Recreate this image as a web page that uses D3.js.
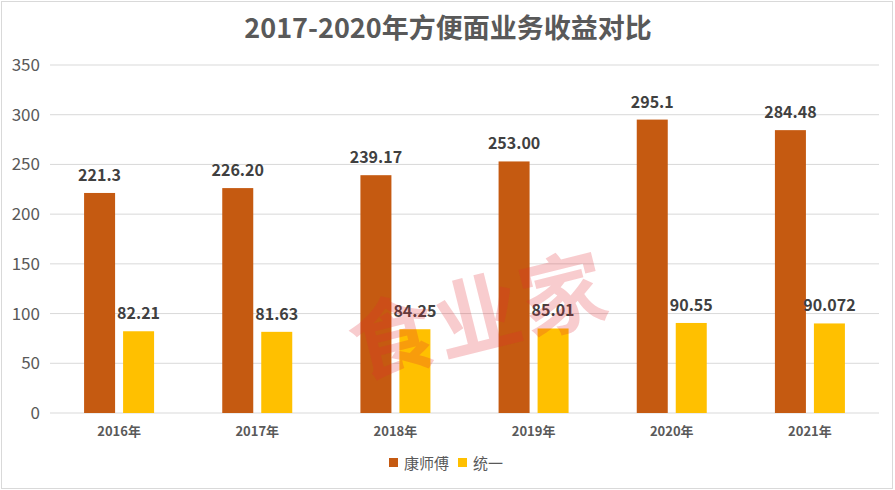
<!DOCTYPE html>
<html>
<head>
<meta charset="utf-8">
<script src="https://cdn.jsdelivr.net/npm/d3@7"></script>
<style>
  body { margin: 0; background: #fff; }
  text { font-family: "Noto Sans CJK SC", "Open Sans", sans-serif; }
</style>
</head>
<body>
<div id="chart"></div>
<script>

// data
const years = ["2016年", "2017年", "2018年", "2019年", "2020年", "2021年"];
const series = ["康师傅", "统一"];
const kangshifu = [221.3, 226.20, 239.17, 253.00, 295.1, 284.48];
const tongyi = [82.21, 81.63, 84.25, 85.01, 90.55, 90.072];
const kangLabels = ["221.3", "226.20", "239.17", "253.00", "295.1", "284.48"];
const tongLabels = ["82.21", "81.63", "84.25", "85.01", "90.55", "90.072"];
const yTicks = [0, 50, 100, 150, 200, 250, 300, 350];

const colors = { "康师傅": "#C55A11", "统一": "#FFC000" };

const W = 895, H = 490;
const margin = { top: 65, right: 16, bottom: 77, left: 50 };
const width = W - margin.left - margin.right;
const height = H - margin.top - margin.bottom;

const svg = d3.select("#chart").append("svg")
    .attr("width", W)
    .attr("height", H);

// outer frame
svg.append("rect")
    .attr("x", 1.5).attr("y", 1.5)
    .attr("width", W - 4).attr("height", H - 3)
    .attr("fill", "#fff")
    .attr("stroke", "#d9d9d9");

// title
svg.append("text")
    .attr("x", 448)
    .attr("y", 38)
    .attr("text-anchor", "middle")
    .attr("font-size", 27)
    .attr("font-weight", "bold")
    .attr("fill", "#595959")
    .text("2017-2020年方便面业务收益对比");

const g = svg.append("g")
    .attr("transform", "translate(" + margin.left + "," + margin.top + ")");

const y = d3.scaleLinear().domain([0, 350]).range([height, 0]);

const x0 = d3.scaleBand().domain(years).range([0, width]).padding(0);
const bw = x0.bandwidth();
const x1 = d3.scaleBand().domain(series)
    .range([bw / 2 - 35, bw / 2 + 35])
    .paddingInner(0.205).paddingOuter(0);

// gridlines
g.append("g")
    .selectAll("line")
    .data(yTicks)
    .join("line")
    .attr("x1", 0).attr("x2", width)
    .attr("y1", d => y(d)).attr("y2", d => y(d))
    .attr("stroke", "#d9d9d9")
    .attr("stroke-width", 1);

// y axis labels
const yAxis = d3.axisLeft(y).tickValues(yTicks).tickSize(0).tickPadding(10);
g.append("g")
    .attr("class", "yaxis")
    .call(yAxis)
    .call(s => s.select(".domain").remove())
    .selectAll("text")
    .attr("font-size", 17)
    .attr("fill", "#595959");

// x axis labels
const xAxis = d3.axisBottom(x0).tickSize(0).tickPadding(14);
g.append("g")
    .attr("transform", "translate(0," + height + ")")
    .call(xAxis)
    .call(s => s.select(".domain").remove())
    .selectAll("text")
    .attr("font-size", 13)
    .attr("font-weight", "bold")
    .attr("fill", "#595959");

const rows = years.map((yr, i) => ({
    year: yr,
    vals: [
        { key: "康师傅", value: kangshifu[i], label: kangLabels[i] },
        { key: "统一", value: tongyi[i], label: tongLabels[i] }
    ]
}));

const groups = g.append("g").selectAll("g")
    .data(rows)
    .join("g")
    .attr("transform", d => "translate(" + x0(d.year) + ",0)");

groups.selectAll("rect")
    .data(d => d.vals)
    .join("rect")
    .attr("x", d => x1(d.key))
    .attr("y", d => y(d.value))
    .attr("width", x1.bandwidth())
    .attr("height", d => height - y(d.value))
    .attr("fill", d => colors[d.key]);

groups.selectAll("text.val")
    .data(d => d.vals)
    .join("text")
    .attr("class", "val")
    .attr("x", d => x1(d.key) + x1.bandwidth() / 2)
    .attr("y", d => y(d.value) - 12)
    .attr("text-anchor", "middle")
    .attr("font-size", 16)
    .attr("font-weight", "bold")
    .attr("fill", "#404040")
    .text(d => d.label);

// watermark
svg.append("text")
    .attr("transform", "translate(477,310) rotate(-14)")
    .attr("text-anchor", "middle")
    .attr("dominant-baseline", "central")
    .attr("font-size", 86)
    .attr("font-weight", "bold")
    .attr("fill", "rgba(225,40,50,0.24)")
    .attr("letter-spacing", 2)
    .text("食业家");

// legend
const legend = svg.append("g").attr("transform", "translate(389,458)");
const items = [
    { key: "康师傅", x: 0 },
    { key: "统一", x: 69 }
];
legend.selectAll("rect")
    .data(items)
    .join("rect")
    .attr("x", d => d.x).attr("y", 0)
    .attr("width", 9).attr("height", 9)
    .attr("fill", d => colors[d.key]);
legend.selectAll("text")
    .data(items)
    .join("text")
    .attr("x", d => d.x + 15)
    .attr("y", 11)
    .attr("font-size", 15)
    .attr("fill", "#595959")
    .text(d => d.key);

</script>
</body>
</html>
